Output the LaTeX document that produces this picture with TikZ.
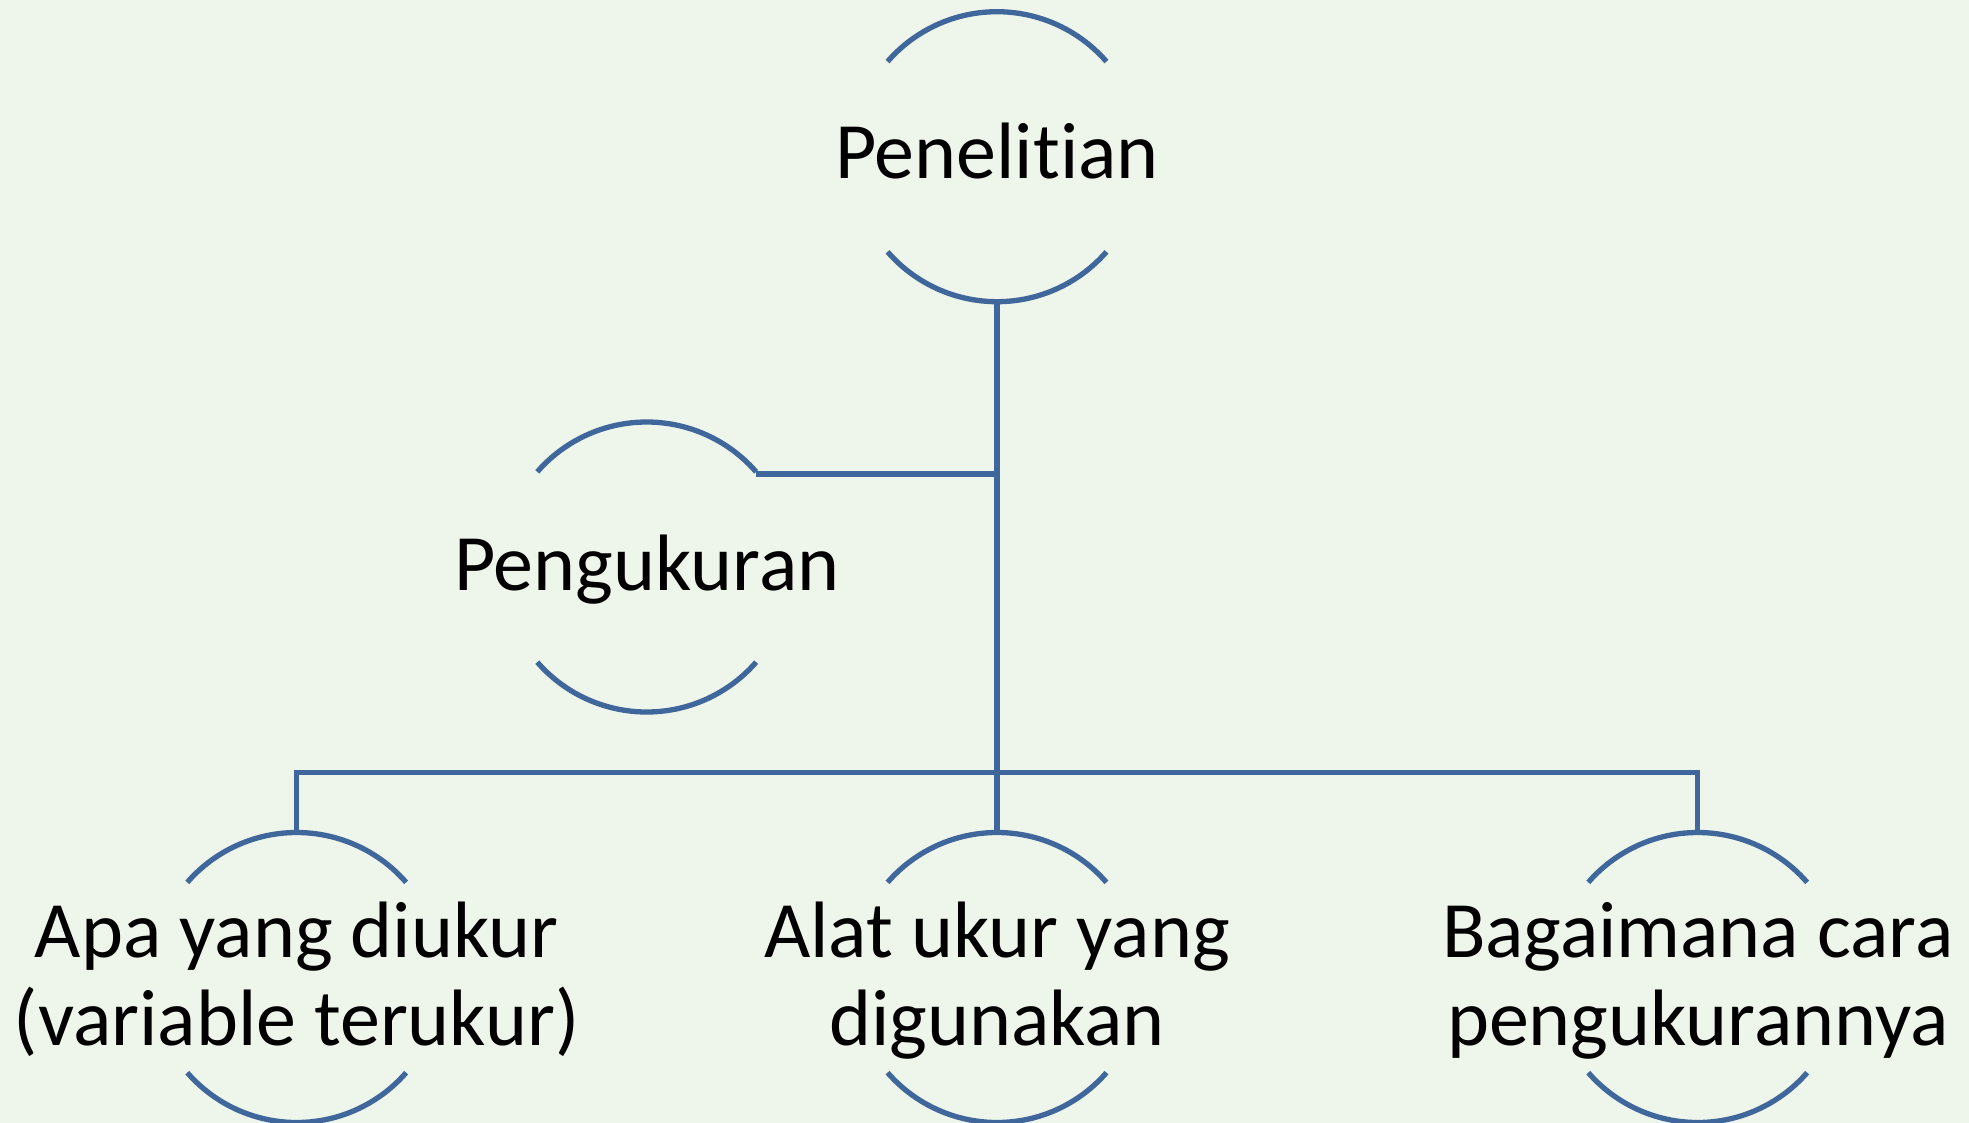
\documentclass[tikz,border=0pt]{standalone}
\usepackage{fontspec}
\setmainfont{Carlito}[Ligatures=NoCommon]
\usetikzlibrary{shapes.geometric}

\definecolor{paper}{RGB}{238,245,234}
\definecolor{arcblue}{RGB}{64,103,155}

\tikzset{
  ring/.style={circle, minimum size=290pt, inner sep=0pt, outer sep=0pt},
  lbl/.style={font=\fontsize{80}{88}\selectfont, align=center, inner sep=0pt, text=black},
  wire/.style={draw=arcblue, line width=5.3pt, line join=miter},
}

% draws the upper and lower arcs of a ring node
\newcommand{\ringarcs}[1]{%
  \draw[wire] (#1.41) arc[start angle=41, end angle=139, radius=145pt];
  \draw[wire] (#1.221) arc[start angle=221, end angle=319, radius=145pt];
}

\begin{document}
\begin{tikzpicture}[x=1pt, y=-1pt]
  % canvas
  \fill[paper] (0,0) rectangle (1969,1123);
  \useasboundingbox (0,0) rectangle (1969,1123);

  % rings
  \node[ring] (root) at (997,156.7) {};
  \node[ring] (meas) at (646.7,567) {};
  \node[ring] (what) at (296.7,977.5) {};
  \node[ring] (tool) at (997,977.5) {};
  \node[ring] (how)  at (1697.7,977.5) {};

  \ringarcs{root}
  \ringarcs{meas}
  \ringarcs{what}
  \ringarcs{tool}
  \ringarcs{how}

  % labels (two-line labels are anchored on their last baseline)
  \node[lbl, anchor=base] (troot) at (997,178.3) {Penelitian};
  \node[lbl, anchor=base] (tmeas) at (646.7,590) {Pengukuran};
  \node[lbl, anchor=base] (twhat) at (296.7,1045) {Apa yang diukur\\(variable terukur)};
  \node[lbl, anchor=base] (ttool) at (997,1045) {Alat ukur yang\\digunakan};
  \node[lbl, anchor=base] (thow)  at (1697.7,1045) {Bagaimana cara\\pengukurannya};

  % connectors
  \coordinate (bus) at (997,772.7);
  \coordinate (tap) at (997,474);
  \draw[wire] (root.south) -- (tool.north);
  \draw[wire] (tap) -- (meas.41 |- tap);
  \draw[wire] (what.north) -- (what.north |- bus) -- (how.north |- bus) -- (how.north);
\end{tikzpicture}
\end{document}
